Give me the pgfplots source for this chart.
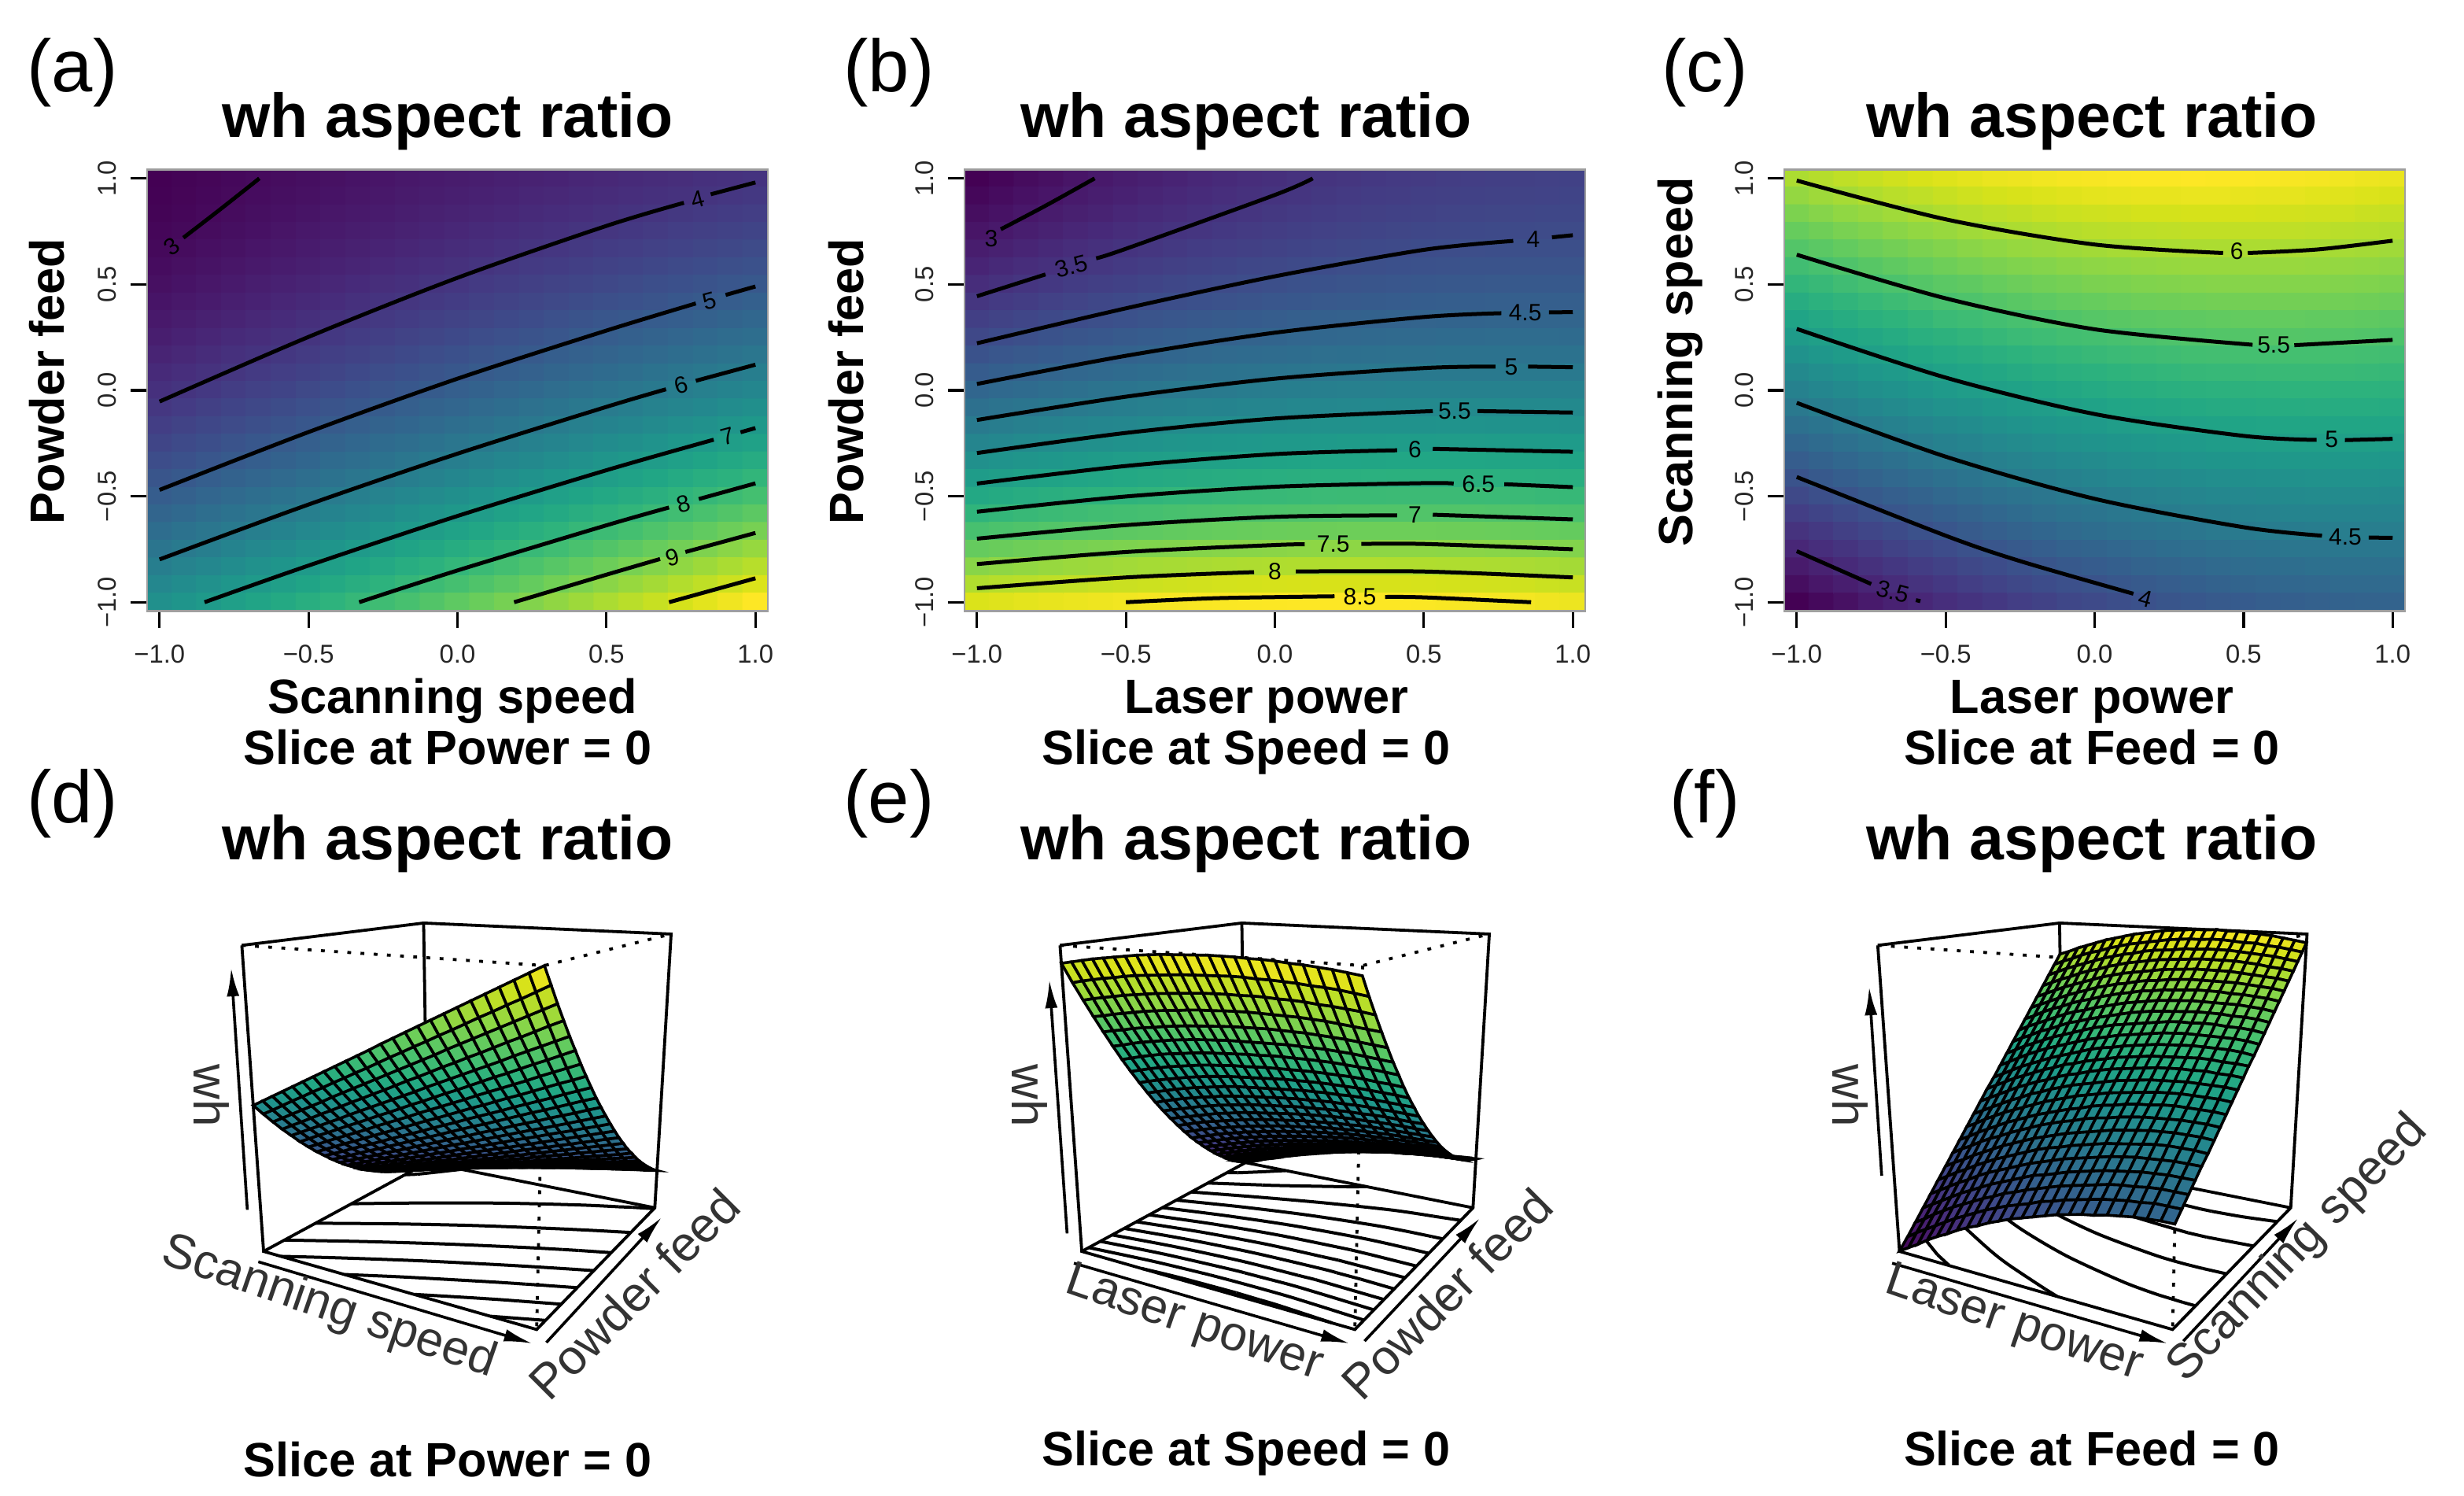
\documentclass[border=0pt]{standalone}
\usepackage{fontspec}
\setmainfont{Liberation Sans}
\usepackage{pgfplots}
\usepackage{pgfplotstable}
\pgfplotsset{compat=1.18}
\usetikzlibrary{arrows.meta}
\def\NC{25}
\pgfplotstableread{z
2.84
2.89
2.93
2.98
3.03
3.08
3.12
3.17
3.22
3.26
3.31
3.36
3.41
3.45
3.50
3.55
3.59
3.64
3.69
3.74
3.78
3.83
3.88
3.92
3.97
2.86
2.91
2.96
3.02
3.07
3.12
3.17
3.22
3.27
3.33
3.38
3.43
3.48
3.53
3.59
3.64
3.69
3.74
3.79
3.84
3.90
3.95
4.00
4.05
4.10
2.89
2.95
3.01
3.06
3.12
3.18
3.23
3.29
3.35
3.40
3.46
3.52
3.57
3.63
3.68
3.74
3.80
3.85
3.91
3.97
4.02
4.08
4.14
4.19
4.25
2.94
3.00
3.06
3.12
3.18
3.25
3.31
3.37
3.43
3.49
3.55
3.61
3.67
3.74
3.80
3.86
3.92
3.98
4.04
4.10
4.16
4.23
4.29
4.35
4.41
3.00
3.06
3.13
3.19
3.26
3.33
3.39
3.46
3.52
3.59
3.66
3.72
3.79
3.85
3.92
3.98
4.05
4.12
4.18
4.25
4.31
4.38
4.45
4.51
4.58
3.07
3.14
3.21
3.28
3.35
3.42
3.49
3.56
3.63
3.70
3.77
3.84
3.91
3.99
4.06
4.13
4.20
4.27
4.34
4.41
4.48
4.55
4.62
4.69
4.76
3.15
3.22
3.30
3.37
3.45
3.53
3.60
3.68
3.75
3.83
3.90
3.98
4.05
4.13
4.21
4.28
4.36
4.43
4.51
4.58
4.66
4.73
4.81
4.88
4.96
3.24
3.32
3.40
3.48
3.56
3.64
3.72
3.80
3.88
3.96
4.04
4.12
4.20
4.28
4.36
4.44
4.52
4.60
4.68
4.76
4.84
4.92
5.00
5.08
5.17
3.35
3.43
3.52
3.60
3.69
3.77
3.86
3.94
4.03
4.11
4.20
4.28
4.37
4.45
4.54
4.62
4.71
4.79
4.88
4.96
5.05
5.13
5.22
5.30
5.38
3.47
3.56
3.65
3.74
3.82
3.91
4.00
4.09
4.18
4.27
4.36
4.45
4.54
4.63
4.72
4.81
4.90
4.99
5.08
5.17
5.26
5.35
5.44
5.53
5.62
3.60
3.69
3.79
3.88
3.97
4.07
4.16
4.26
4.35
4.44
4.54
4.63
4.73
4.82
4.92
5.01
5.11
5.20
5.29
5.39
5.48
5.58
5.67
5.77
5.86
3.74
3.84
3.94
4.04
4.14
4.24
4.33
4.43
4.53
4.63
4.73
4.83
4.93
5.03
5.13
5.22
5.32
5.42
5.52
5.62
5.72
5.82
5.92
6.02
6.12
3.90
4.00
4.10
4.21
4.31
4.41
4.52
4.62
4.73
4.83
4.93
5.04
5.14
5.24
5.35
5.45
5.56
5.66
5.76
5.87
5.97
6.07
6.18
6.28
6.39
4.06
4.17
4.28
4.39
4.50
4.60
4.71
4.82
4.93
5.04
5.15
5.26
5.36
5.47
5.58
5.69
5.80
5.91
6.02
6.12
6.23
6.34
6.45
6.56
6.67
4.24
4.36
4.47
4.58
4.69
4.81
4.92
5.03
5.15
5.26
5.37
5.49
5.60
5.71
5.83
5.94
6.05
6.17
6.28
6.39
6.51
6.62
6.73
6.85
6.96
4.43
4.55
4.67
4.79
4.91
5.02
5.14
5.26
5.38
5.50
5.61
5.73
5.85
5.97
6.09
6.20
6.32
6.44
6.56
6.68
6.79
6.91
7.03
7.15
7.26
4.64
4.76
4.88
5.01
5.13
5.25
5.37
5.50
5.62
5.74
5.86
5.99
6.11
6.23
6.36
6.48
6.60
6.72
6.85
6.97
7.09
7.21
7.34
7.46
7.58
4.85
4.98
5.11
5.24
5.36
5.49
5.62
5.75
5.87
6.00
6.13
6.26
6.38
6.51
6.64
6.77
6.89
7.02
7.15
7.27
7.40
7.53
7.66
7.78
7.91
5.08
5.21
5.35
5.48
5.61
5.74
5.87
6.01
6.14
6.27
6.40
6.54
6.67
6.80
6.93
7.06
7.20
7.33
7.46
7.59
7.72
7.86
7.99
8.12
8.25
5.32
5.46
5.60
5.73
5.87
6.01
6.14
6.28
6.42
6.55
6.69
6.83
6.96
7.10
7.24
7.37
7.51
7.65
7.79
7.92
8.06
8.20
8.33
8.47
8.61
5.58
5.72
5.86
6.00
6.14
6.28
6.43
6.57
6.71
6.85
6.99
7.13
7.27
7.42
7.56
7.70
7.84
7.98
8.12
8.26
8.41
8.55
8.69
8.83
8.97
5.84
5.99
6.13
6.28
6.43
6.57
6.72
6.87
7.01
7.16
7.30
7.45
7.60
7.74
7.89
8.04
8.18
8.33
8.47
8.62
8.77
8.91
9.06
9.21
9.35
6.12
6.27
6.42
6.57
6.72
6.87
7.03
7.18
7.33
7.48
7.63
7.78
7.93
8.08
8.23
8.38
8.54
8.69
8.84
8.99
9.14
9.29
9.44
9.59
9.74
6.41
6.56
6.72
6.88
7.03
7.19
7.34
7.50
7.65
7.81
7.96
8.12
8.28
8.43
8.59
8.74
8.90
9.05
9.21
9.37
9.52
9.68
9.83
9.99
10.15
6.71
6.87
7.03
7.19
7.35
7.51
7.67
7.83
7.99
8.15
8.31
8.47
8.64
8.80
8.96
9.12
9.28
9.44
9.60
9.76
9.92
10.08
10.24
10.40
10.56
}\gridA
\pgfplotstableread{z
2.63
2.71
2.80
2.87
2.95
3.02
3.09
3.15
3.21
3.27
3.33
3.38
3.43
3.48
3.52
3.56
3.60
3.63
3.66
3.69
3.71
3.73
3.75
3.77
3.78
2.73
2.81
2.89
2.96
3.04
3.11
3.17
3.24
3.30
3.35
3.41
3.46
3.51
3.55
3.59
3.63
3.67
3.70
3.73
3.75
3.78
3.79
3.81
3.82
3.84
2.83
2.91
2.99
3.07
3.14
3.20
3.27
3.33
3.39
3.45
3.50
3.55
3.59
3.64
3.68
3.71
3.75
3.78
3.80
3.83
3.85
3.87
3.88
3.89
3.90
2.95
3.03
3.11
3.18
3.25
3.32
3.38
3.44
3.50
3.55
3.60
3.65
3.69
3.73
3.77
3.81
3.84
3.87
3.89
3.92
3.94
3.96
3.97
3.98
3.98
3.09
3.16
3.24
3.31
3.38
3.44
3.50
3.56
3.62
3.67
3.71
3.76
3.80
3.84
3.88
3.92
3.95
3.97
4.00
4.02
4.04
4.05
4.06
4.07
4.07
3.23
3.31
3.38
3.45
3.52
3.58
3.64
3.69
3.75
3.80
3.84
3.89
3.93
3.97
4.00
4.04
4.07
4.09
4.11
4.13
4.15
4.16
4.17
4.18
4.18
3.39
3.46
3.54
3.60
3.67
3.73
3.78
3.84
3.89
3.94
3.98
4.02
4.07
4.10
4.14
4.17
4.19
4.22
4.24
4.26
4.27
4.28
4.29
4.29
4.29
3.56
3.63
3.70
3.77
3.83
3.89
3.95
4.00
4.05
4.09
4.13
4.17
4.21
4.25
4.28
4.31
4.33
4.36
4.38
4.39
4.40
4.41
4.42
4.42
4.42
3.74
3.81
3.88
3.95
4.01
4.07
4.12
4.17
4.22
4.26
4.30
4.34
4.37
4.41
4.44
4.47
4.49
4.51
4.53
4.54
4.55
4.56
4.57
4.57
4.56
3.93
4.00
4.07
4.14
4.20
4.25
4.31
4.35
4.40
4.44
4.48
4.51
4.55
4.58
4.61
4.63
4.66
4.67
4.69
4.70
4.71
4.72
4.72
4.72
4.71
4.14
4.21
4.28
4.34
4.40
4.45
4.50
4.55
4.59
4.63
4.67
4.70
4.73
4.76
4.79
4.81
4.83
4.85
4.86
4.87
4.88
4.88
4.88
4.88
4.88
4.36
4.43
4.50
4.56
4.61
4.66
4.71
4.76
4.80
4.84
4.87
4.90
4.93
4.96
4.98
5.00
5.02
5.03
5.05
5.06
5.06
5.06
5.06
5.06
5.06
4.59
4.65
4.71
4.77
4.83
4.89
4.93
4.98
5.02
5.05
5.08
5.11
5.14
5.17
5.19
5.21
5.23
5.24
5.25
5.25
5.26
5.26
5.26
5.25
5.25
4.83
4.89
4.95
5.01
5.07
5.12
5.17
5.21
5.25
5.29
5.31
5.34
5.36
5.39
5.41
5.42
5.44
5.45
5.46
5.46
5.47
5.47
5.46
5.45
5.45
5.08
5.15
5.21
5.27
5.32
5.37
5.41
5.46
5.49
5.52
5.55
5.57
5.60
5.62
5.64
5.65
5.67
5.68
5.68
5.69
5.69
5.68
5.68
5.67
5.66
5.35
5.41
5.47
5.53
5.58
5.63
5.67
5.71
5.75
5.78
5.80
5.82
5.84
5.86
5.88
5.90
5.91
5.92
5.92
5.93
5.93
5.92
5.91
5.90
5.89
5.63
5.69
5.75
5.80
5.85
5.90
5.94
5.98
6.01
6.04
6.06
6.08
6.10
6.12
6.14
6.15
6.16
6.17
6.17
6.17
6.17
6.16
6.15
6.14
6.12
5.92
5.98
6.04
6.09
6.14
6.18
6.22
6.26
6.29
6.31
6.34
6.35
6.37
6.39
6.40
6.41
6.42
6.43
6.43
6.43
6.43
6.42
6.40
6.39
6.37
6.22
6.28
6.34
6.39
6.44
6.48
6.51
6.55
6.58
6.60
6.62
6.64
6.66
6.67
6.69
6.70
6.70
6.71
6.71
6.71
6.70
6.69
6.68
6.66
6.64
6.54
6.59
6.65
6.70
6.74
6.78
6.82
6.85
6.88
6.90
6.92
6.94
6.95
6.96
6.97
6.98
6.99
6.99
6.99
6.99
6.98
6.97
6.95
6.93
6.91
6.87
6.92
6.96
7.01
7.05
7.08
7.12
7.15
7.18
7.20
7.22
7.24
7.26
7.27
7.28
7.29
7.29
7.29
7.29
7.28
7.27
7.26
7.24
7.22
7.20
7.21
7.25
7.30
7.34
7.38
7.42
7.45
7.48
7.50
7.53
7.55
7.56
7.58
7.59
7.60
7.60
7.60
7.60
7.60
7.59
7.58
7.56
7.54
7.52
7.50
7.56
7.61
7.65
7.69
7.73
7.76
7.79
7.82
7.84
7.86
7.88
7.90
7.91
7.92
7.92
7.93
7.93
7.92
7.92
7.91
7.89
7.88
7.86
7.84
7.81
7.92
7.97
8.01
8.05
8.08
8.12
8.15
8.17
8.19
8.21
8.23
8.24
8.25
8.26
8.27
8.27
8.26
8.26
8.25
8.24
8.22
8.21
8.19
8.16
8.13
8.30
8.34
8.38
8.42
8.45
8.48
8.51
8.54
8.56
8.58
8.59
8.60
8.61
8.62
8.62
8.62
8.61
8.61
8.60
8.58
8.57
8.55
8.53
8.50
8.47
}\gridB
\pgfplotstableread{z
6.02
6.06
6.11
6.15
6.19
6.23
6.26
6.29
6.32
6.34
6.36
6.38
6.39
6.40
6.41
6.41
6.42
6.41
6.41
6.40
6.39
6.38
6.36
6.34
6.32
5.90
5.95
5.99
6.04
6.08
6.11
6.15
6.18
6.21
6.23
6.25
6.27
6.29
6.30
6.31
6.31
6.32
6.32
6.31
6.30
6.30
6.28
6.27
6.25
6.23
5.78
5.83
5.88
5.92
5.96
6.00
6.04
6.07
6.10
6.12
6.15
6.17
6.18
6.19
6.21
6.21
6.22
6.22
6.22
6.21
6.20
6.19
6.18
6.16
6.14
5.66
5.71
5.76
5.80
5.85
5.89
5.92
5.96
5.99
6.02
6.04
6.06
6.08
6.09
6.10
6.11
6.12
6.12
6.12
6.12
6.11
6.10
6.08
6.07
6.05
5.54
5.59
5.64
5.69
5.73
5.77
5.81
5.85
5.88
5.91
5.93
5.95
5.97
5.99
6.00
6.01
6.02
6.02
6.02
6.02
6.01
6.00
5.99
5.98
5.96
5.42
5.47
5.52
5.57
5.62
5.66
5.70
5.74
5.77
5.80
5.82
5.85
5.87
5.88
5.90
5.91
5.92
5.92
5.92
5.92
5.92
5.91
5.90
5.89
5.87
5.30
5.35
5.41
5.46
5.50
5.55
5.59
5.62
5.66
5.69
5.72
5.74
5.77
5.78
5.80
5.81
5.82
5.83
5.83
5.83
5.82
5.82
5.81
5.80
5.78
5.18
5.24
5.29
5.34
5.39
5.44
5.48
5.51
5.55
5.58
5.61
5.64
5.66
5.68
5.70
5.71
5.72
5.73
5.73
5.73
5.73
5.73
5.72
5.71
5.69
5.06
5.12
5.17
5.23
5.27
5.32
5.37
5.40
5.44
5.47
5.50
5.53
5.56
5.58
5.60
5.61
5.62
5.63
5.64
5.64
5.64
5.63
5.63
5.62
5.60
4.94
5.00
5.06
5.11
5.16
5.21
5.25
5.29
5.33
5.37
5.40
5.43
5.45
5.47
5.49
5.51
5.53
5.54
5.54
5.55
5.55
5.54
5.54
5.53
5.51
4.82
4.88
4.94
5.00
5.05
5.10
5.14
5.18
5.22
5.26
5.29
5.32
5.35
5.37
5.39
5.41
5.43
5.44
5.45
5.45
5.45
5.45
5.45
5.44
5.42
4.70
4.76
4.82
4.88
4.93
4.98
5.03
5.07
5.11
5.15
5.19
5.22
5.24
5.27
5.29
5.31
5.33
5.34
5.35
5.36
5.36
5.36
5.36
5.35
5.33
4.59
4.65
4.71
4.77
4.82
4.87
4.92
4.96
5.01
5.04
5.08
5.11
5.14
5.17
5.19
5.21
5.23
5.24
5.25
5.26
5.27
5.27
5.26
5.26
5.25
4.47
4.53
4.59
4.65
4.71
4.76
4.81
4.85
4.90
4.94
4.97
5.01
5.04
5.07
5.09
5.11
5.13
5.15
5.16
5.17
5.17
5.18
5.17
5.17
5.16
4.35
4.41
4.47
4.53
4.59
4.64
4.70
4.74
4.79
4.83
4.87
4.90
4.93
4.96
4.99
5.01
5.03
5.05
5.06
5.07
5.08
5.08
5.08
5.08
5.07
4.23
4.29
4.36
4.42
4.48
4.53
4.58
4.63
4.68
4.72
4.76
4.80
4.83
4.86
4.89
4.91
4.93
4.95
4.97
4.98
4.99
4.99
4.99
4.99
4.98
4.11
4.17
4.24
4.30
4.36
4.42
4.47
4.52
4.57
4.61
4.65
4.69
4.72
4.76
4.79
4.81
4.84
4.86
4.87
4.89
4.90
4.90
4.90
4.90
4.89
3.99
4.06
4.12
4.19
4.25
4.30
4.36
4.41
4.46
4.51
4.55
4.59
4.62
4.66
4.69
4.71
4.74
4.76
4.78
4.79
4.80
4.81
4.81
4.81
4.80
3.87
3.94
4.00
4.07
4.13
4.19
4.25
4.30
4.35
4.40
4.44
4.48
4.52
4.55
4.58
4.61
4.64
4.66
4.68
4.70
4.71
4.72
4.72
4.72
4.71
3.75
3.82
3.89
3.95
4.02
4.08
4.14
4.19
4.24
4.29
4.34
4.38
4.41
4.45
4.48
4.51
4.54
4.56
4.58
4.60
4.62
4.63
4.63
4.63
4.62
3.63
3.70
3.77
3.84
3.90
3.97
4.03
4.08
4.13
4.18
4.23
4.27
4.31
4.35
4.38
4.41
4.44
4.47
4.49
4.51
4.52
4.53
4.54
4.54
4.54
3.51
3.58
3.65
3.72
3.79
3.85
3.91
3.97
4.02
4.07
4.12
4.17
4.20
4.24
4.28
4.31
4.34
4.37
4.39
4.41
4.43
4.44
4.45
4.45
4.45
3.39
3.46
3.54
3.61
3.68
3.74
3.80
3.86
3.91
3.97
4.01
4.06
4.10
4.14
4.18
4.21
4.24
4.27
4.30
4.32
4.33
4.35
4.36
4.36
4.36
3.27
3.35
3.42
3.49
3.56
3.63
3.69
3.75
3.81
3.86
3.91
3.95
3.99
4.04
4.07
4.11
4.14
4.17
4.20
4.22
4.24
4.25
4.27
4.27
4.27
3.16
3.23
3.30
3.38
3.45
3.51
3.58
3.64
3.69
3.75
3.80
3.85
3.89
3.93
3.97
4.01
4.04
4.07
4.09
4.12
4.14
4.16
4.17
4.18
4.18
}\gridC
\pgfplotstableread{x y
-0.92 0.72
-0.8 0.85
-0.665 1
nan nan
-1 -0.053
-0.5 0.252
0 0.531
0.5 0.776
0.76 0.885
nan nan
0.85 0.925
1 0.981
nan nan
-1 -0.47
-0.5 -0.197
0 0.055
0.5 0.282
0.8 0.41
nan nan
0.9 0.45
1 0.49
nan nan
-1 -0.798
-0.5 -0.539
0 -0.299
0.5 -0.078
0.7 0.005
nan nan
0.8 0.045
1 0.121
nan nan
-0.849 -1
-0.5 -0.827
0 -0.593
0.5 -0.377
0.86 -0.233
nan nan
0.95 -0.198
1 -0.178
nan nan
-0.33 -1
0 -0.85
0.5 -0.637
0.71 -0.553
nan nan
0.81 -0.513
1 -0.439
nan nan
0.19 -1
0.5 -0.87
0.68 -0.796
nan nan
0.765 -0.763
1 -0.673
nan nan
0.71 -1
1 -0.887
}\conA
\pgfplotstableread{x y
-1 0.661
-0.92 0.72
nan nan
0.76 0.885
0.85 0.925
nan nan
0.8 0.41
0.9 0.45
nan nan
0.7 0.005
0.8 0.045
nan nan
0.86 -0.233
0.95 -0.198
nan nan
0.71 -0.553
0.81 -0.513
nan nan
0.68 -0.796
0.765 -0.763
}\gapA
\pgfplotstableread{x y
-0.92 0.76
-0.77 0.871
-0.605 1
nan nan
-1 0.444
-0.77 0.547
nan nan
-0.6 0.623
-0.5 0.668
0 0.922
0.127 1
nan nan
-1 0.222
-0.5 0.387
0 0.538
0.5 0.663
0.8 0.705
nan nan
0.93 0.722
1 0.732
nan nan
-1 0.03
-0.5 0.163
0 0.272
0.5 0.346
0.76 0.364
nan nan
0.92 0.368
1 0.369
nan nan
-1 -0.14
-0.5 -0.03
0 0.055
0.5 0.105
0.74 0.112
nan nan
0.85 0.112
1 0.109
nan nan
-1 -0.296
-0.5 -0.201
0 -0.133
0.53 -0.098
nan nan
0.68 -0.098
1 -0.105
nan nan
-1 -0.44
-0.5 -0.357
0 -0.301
0.41 -0.283
nan nan
0.53 -0.276
1 -0.29
nan nan
-1 -0.573
-0.5 -0.501
0 -0.455
0.5 -0.438
0.6 -0.44
nan nan
0.77 -0.443
1 -0.457
nan nan
-1 -0.7
-0.5 -0.636
0 -0.597
0.41 -0.59
nan nan
0.53 -0.587
1 -0.609
nan nan
-1 -0.82
-0.5 -0.763
0 -0.73
0.1 -0.727
nan nan
0.29 -0.725
0.5 -0.725
1 -0.75
nan nan
-1 -0.934
-0.5 -0.883
-0.07 -0.858
nan nan
0.07 -0.855
0.5 -0.855
1 -0.883
nan nan
-0.5 -1
-0.2 -0.981
0.2 -0.972
nan nan
0.37 -0.975
0.5 -0.977
0.86 -1
}\conB
\pgfplotstableread{x y
-1 0.72
-0.92 0.76
nan nan
-0.77 0.547
-0.6 0.623
nan nan
0.8 0.705
0.93 0.722
nan nan
0.76 0.364
0.92 0.368
nan nan
0.74 0.112
0.85 0.112
nan nan
0.53 -0.098
0.68 -0.098
nan nan
0.41 -0.283
0.53 -0.276
nan nan
0.6 -0.44
0.77 -0.443
nan nan
0.41 -0.59
0.53 -0.587
nan nan
0.1 -0.727
0.29 -0.725
nan nan
-0.07 -0.858
0.07 -0.855
nan nan
0.2 -0.972
0.37 -0.975
}\gapB
\pgfplotstableread{x y
-1 0.99
-0.5 0.807
0 0.688
0.431 0.648
nan nan
0.514 0.648
0.75 0.665
1 0.706
nan nan
-1 0.64
-0.5 0.434
0 0.288
0.53 0.215
nan nan
0.67 0.213
1 0.238
nan nan
-1 0.29
-0.5 0.06
0 -0.112
0.5 -0.215
0.745 -0.234
nan nan
0.84 -0.235
1 -0.229
nan nan
-1 -0.059
-0.5 -0.313
0 -0.512
0.5 -0.646
0.763 -0.686
nan nan
0.92 -0.695
1 -0.696
nan nan
-1 -0.409
-0.5 -0.686
-0.25 -0.806
0.13 -0.96
nan nan
-1 -0.759
-0.75 -0.914
nan nan
-0.6 -0.99
-0.585 -0.995
}\conC
\pgfplotstableread{x y
0.431 0.648
0.514 0.648
nan nan
0.53 0.215
0.67 0.213
nan nan
0.745 -0.234
0.84 -0.235
nan nan
0.763 -0.686
0.92 -0.695
nan nan
0.13 -0.96
0.24 -1
nan nan
-0.75 -0.914
-0.6 -0.99
}\gapC
\pgfplotstableread{X Y Z
-1 -1 1
-1 1 1
1 1 1
1 1 -1
1 -1 -1
-1 -1 -1
-1 -1 1
nan nan nan
-1 1 1
-1 1 -1
nan nan nan
-1 -1 -1
-1 1 -1
1 1 -1
}\boxSolid
\pgfplotstableread{X Y Z
-1 -1 1
1 -1 1
1 1 1
nan nan nan
1 -1 1
1 -1 -1
}\boxDot
\pgfplotsset{
 heat/.style={
  scale only axis, width=197.25pt, height=140.25pt, anchor=north west,
  enlargelimits=false, xmin=-1.0417, xmax=1.0417, ymin=-1.0417, ymax=1.0417,
  xtick={-1,-0.5,0,0.5,1}, ytick={-1,-0.5,0,0.5,1},
  xticklabels={−1.0,−0.5,0.0,0.5,1.0}, yticklabels={−1.0,−0.5,0.0,0.5,1.0},
  tick align=outside, tick pos=left, major tick length=5.3pt,
  tick style={black, line width=0.8pt},
  axis line style={draw=gray!75, line width=0.6pt},
  ticklabel style={font=\fontsize{8.2}{9}\selectfont, text=black!85},
  yticklabel style={rotate=90, anchor=south},
  xticklabel shift=2pt, yticklabel shift=1pt,
  colormap/viridis, axis on top=true,
 },
 persp/.style={
  scale only axis, width=260pt, height=235.25pt, anchor=north west,
  hide axis, xmin=0, xmax=1568, ymin=0, ymax=1568, y dir=reverse, clip=false,
  colormap/viridis,
 },
 cl/.style={black, line width=1.25pt, smooth, tension=0.5, unbounded coords=jump},
 fl/.style={black, line width=1pt, smooth, tension=0.5, unbounded coords=jump},
 ar/.style={black, line width=0.9pt, -{Latex[length=9pt,width=4pt]}},
}
\newcommand{\gx}{(-1+2*(mod(\coordindex+0.5,\NC)-0.5)/(\NC-1))}
\newcommand{\gy}{(1-2*floor((\coordindex+0.5)/\NC)/(\NC-1))}
\newcommand{\lab}[4][0]{\node[font=\fontsize{7.5}{8}\selectfont, inner sep=0pt, rotate=#1] at (axis cs:#2,#3) {#4};}
\newcommand{\txt}[4][]{\node[#1] at ({#2*0.25pt},{-#3*0.25pt}) {#4};}
\newcommand{\heat}[1]{\addplot[matrix plot*, mesh/cols=\NC, point meta=\thisrow{z}] table[x index=0, y index=0, x expr={\gx}, y expr={\gy}] {#1};}
% surf, floor, box in a panel: #1 grid #2 zmin #3 zmax #4 contours #5 gaps #6 shift
\newcommand{\persp}[6]{%
 \addplot[black, line width=0.95pt, unbounded coords=jump] table[x expr={pu(\thisrow{X},\thisrow{Y},\thisrow{Z})-#6}, y expr={pv(\thisrow{X},\thisrow{Y},\thisrow{Z})}] {\boxSolid};
 \addplot[black, line width=0.95pt, dash pattern=on 1.2pt off 3pt, unbounded coords=jump] table[x expr={pu(\thisrow{X},\thisrow{Y},\thisrow{Z})-#6}, y expr={pv(\thisrow{X},\thisrow{Y},\thisrow{Z})}] {\boxDot};
 \addplot[fl] table[x expr={pu(\thisrow{x},\thisrow{y},-1)-#6}, y expr={pv(\thisrow{x},\thisrow{y},-1)}] {#4};
 \addplot[black, line width=1pt, unbounded coords=jump] table[x expr={pu(\thisrow{x},\thisrow{y},-1)-#6}, y expr={pv(\thisrow{x},\thisrow{y},-1)}] {#5};
 \addplot[surf, shader=faceted, faceted color=black, line width=0.9pt, mesh/cols=\NC, point meta=\thisrow{z}] table[x index=0, y index=0, x expr={pu(\gx,\gy,2*(\thisrow{z}-#2)/(#3-#2)-1)-#6}, y expr={pv(\gx,\gy,2*(\thisrow{z}-#2)/(#3-#2)-1)}] {#1};
}
\begin{document}
\begin{tikzpicture}[declare function={
 pw(\X,\Y,\Z)=1-0.081*\X+0.141*\Y-0.046*\Z;
 pu(\X,\Y,\Z)=(174.7*\X+270.2*\Y-41.87*\Z+901.1)/pw(\X,\Y,\Z);
 pv(\X,\Y,\Z)=(-16.9*\X+28.9*\Y-337.9*\Z+709.3)/pw(\X,\Y,\Z);
}]
\path[use as bounding box] (0pt,0pt) rectangle (783pt,-475.25pt);
\begin{axis}[heat, at={(46.75pt,-53.875pt)}]
 \heat{\gridA}
 \addplot[cl] table {\conA};
 \lab[35]{-0.958}{0.68}{3}\lab[15]{0.807}{0.90}{4}\lab[15]{0.847}{0.42}{5}\lab[15]{0.75}{0.026}{6}
 \lab[15]{0.907}{-0.218}{7}\lab[15]{0.758}{-0.538}{8}\lab[15]{0.723}{-0.79}{9}
\end{axis}
\begin{axis}[heat, at={(306.5pt,-53.875pt)}]
 \heat{\gridB}
 \addplot[cl] table {\conB};
 \lab{-0.952}{0.715}{3}\lab[15]{-0.683}{0.586}{3.5}\lab{0.867}{0.713}{4}\lab{0.84}{0.366}{4.5}
 \lab{0.793}{0.112}{5}\lab{0.603}{-0.098}{5.5}\lab{0.47}{-0.28}{6}\lab{0.683}{-0.441}{6.5}
 \lab{0.47}{-0.588}{7}\lab{0.196}{-0.726}{7.5}\lab{0.0}{-0.856}{8}\lab{0.285}{-0.973}{8.5}
\end{axis}
\begin{axis}[heat, at={(567pt,-53.875pt)}]
 \heat{\gridC}
 \addplot[cl] table {\conC};
 \lab{0.477}{0.655}{6}\lab{0.601}{0.216}{5.5}\lab{0.795}{-0.232}{5}\lab{0.841}{-0.693}{4.5}
 \lab[-15]{0.172}{-0.984}{4}\lab[-15]{-0.677}{-0.95}{3.5}
\end{axis}
\begin{axis}[persp, at={(0pt,-240pt)}]
 \persp{\gridA}{2.84}{10.56}{\conA}{\gapA}{0}
 \addplot[ar] coordinates {(474,962) (443,450)};
 \addplot[ar] coordinates {(495,1072) (1020,1245)};
 \addplot[ar] coordinates {(1047,1243) (1268,978)};
 \node[font=\fontsize{15.5}{16}\selectfont, text=black!80, rotate=-90] at (axis cs:405,720) {wh};
 \node[font=\fontsize{15.5}{16}\selectfont, text=black!80, rotate=-19] at (axis cs:630,1170) {Scanning speed};
 \node[font=\fontsize{15.5}{16}\selectfont, text=black!80, rotate=45] at (axis cs:1215,1140) {Powder feed};
\end{axis}
\begin{axis}[persp, at={(260pt,-240pt)}]
 \persp{\gridB}{2.63}{8.62}{\conB}{\gapB}{0}
 \addplot[ar] coordinates {(477,1012) (443,475)};
 \addplot[ar] coordinates {(490,1075) (1018,1245)};
 \addplot[ar] coordinates {(1047,1240) (1268,980)};
 \node[font=\fontsize{15.5}{16}\selectfont, text=black!80, rotate=-90] at (axis cs:405,720) {wh};
 \node[font=\fontsize{15.5}{16}\selectfont, text=black!80, rotate=-19] at (axis cs:720,1205) {Laser power};
 \node[font=\fontsize{15.5}{16}\selectfont, text=black!80, rotate=45] at (axis cs:1205,1140) {Powder feed};
\end{axis}
\begin{axis}[persp, at={(523pt,-240pt)}]
 \persp{\gridC}{3.155}{6.415}{\conC}{\gapC}{19}
 \addplot[ar] coordinates {(452,890) (428,490)};
 \addplot[ar] coordinates {(472,1075) (1000,1245)};
 \addplot[ar] coordinates {(1030,1240) (1250,980)};
 \node[font=\fontsize{15.5}{16}\selectfont, text=black!80, rotate=-90] at (axis cs:392,720) {wh};
 \node[font=\fontsize{15.5}{16}\selectfont, text=black!80, rotate=-19] at (axis cs:705,1205) {Laser power};
 \node[font=\fontsize{15.5}{16}\selectfont, text=black!80, rotate=46] at (axis cs:1250,1045) {Scanning speed};
\end{axis}
\newcommand{\ttl}{\fontsize{19.7}{21}\selectfont\bfseries}
\newcommand{\lbl}{\fontsize{15.3}{16}\selectfont\bfseries}
\newcommand{\tg}{\fontsize{23.5}{25}\selectfont}
\txt[font=\tg]{92}{92}{(a)}\txt[font=\tg]{1130}{92}{(b)}\txt[font=\tg]{2167}{92}{(c)}
\txt[font=\tg]{92}{1021}{(d)}\txt[font=\tg]{1130}{1021}{(e)}\txt[font=\tg]{2167}{1021}{(f)}
\txt[font=\ttl,anchor=base]{569}{175}{wh aspect ratio}\txt[font=\ttl,anchor=base]{1584}{175}{wh aspect ratio}\txt[font=\ttl,anchor=base]{2659}{175}{wh aspect ratio}
\txt[font=\ttl,anchor=base]{569}{1092}{wh aspect ratio}\txt[font=\ttl,anchor=base]{1584}{1092}{wh aspect ratio}\txt[font=\ttl,anchor=base]{2659}{1092}{wh aspect ratio}
\txt[font=\lbl,anchor=base]{575}{906}{Scanning speed}\txt[font=\lbl,anchor=base]{1610}{906}{Laser power}\txt[font=\lbl,anchor=base]{2659}{906}{Laser power}
\txt[font=\lbl,anchor=base]{569}{971}{Slice at Power = 0}\txt[font=\lbl,anchor=base]{1584}{971}{Slice at Speed = 0}\txt[font=\lbl,anchor=base]{2659}{971}{Slice at Feed = 0}
\txt[font=\lbl,anchor=base]{569}{1876}{Slice at Power = 0}\txt[font=\lbl,anchor=base]{1584}{1862}{Slice at Speed = 0}\txt[font=\lbl,anchor=base]{2659}{1862}{Slice at Feed = 0}
\txt[font=\lbl,rotate=90,anchor=base]{81}{485}{Powder feed}\txt[font=\lbl,rotate=90,anchor=base]{1097}{485}{Powder feed}\txt[font=\lbl,rotate=90,anchor=base]{2151}{460}{Scanning speed}
\end{tikzpicture}
\end{document}
